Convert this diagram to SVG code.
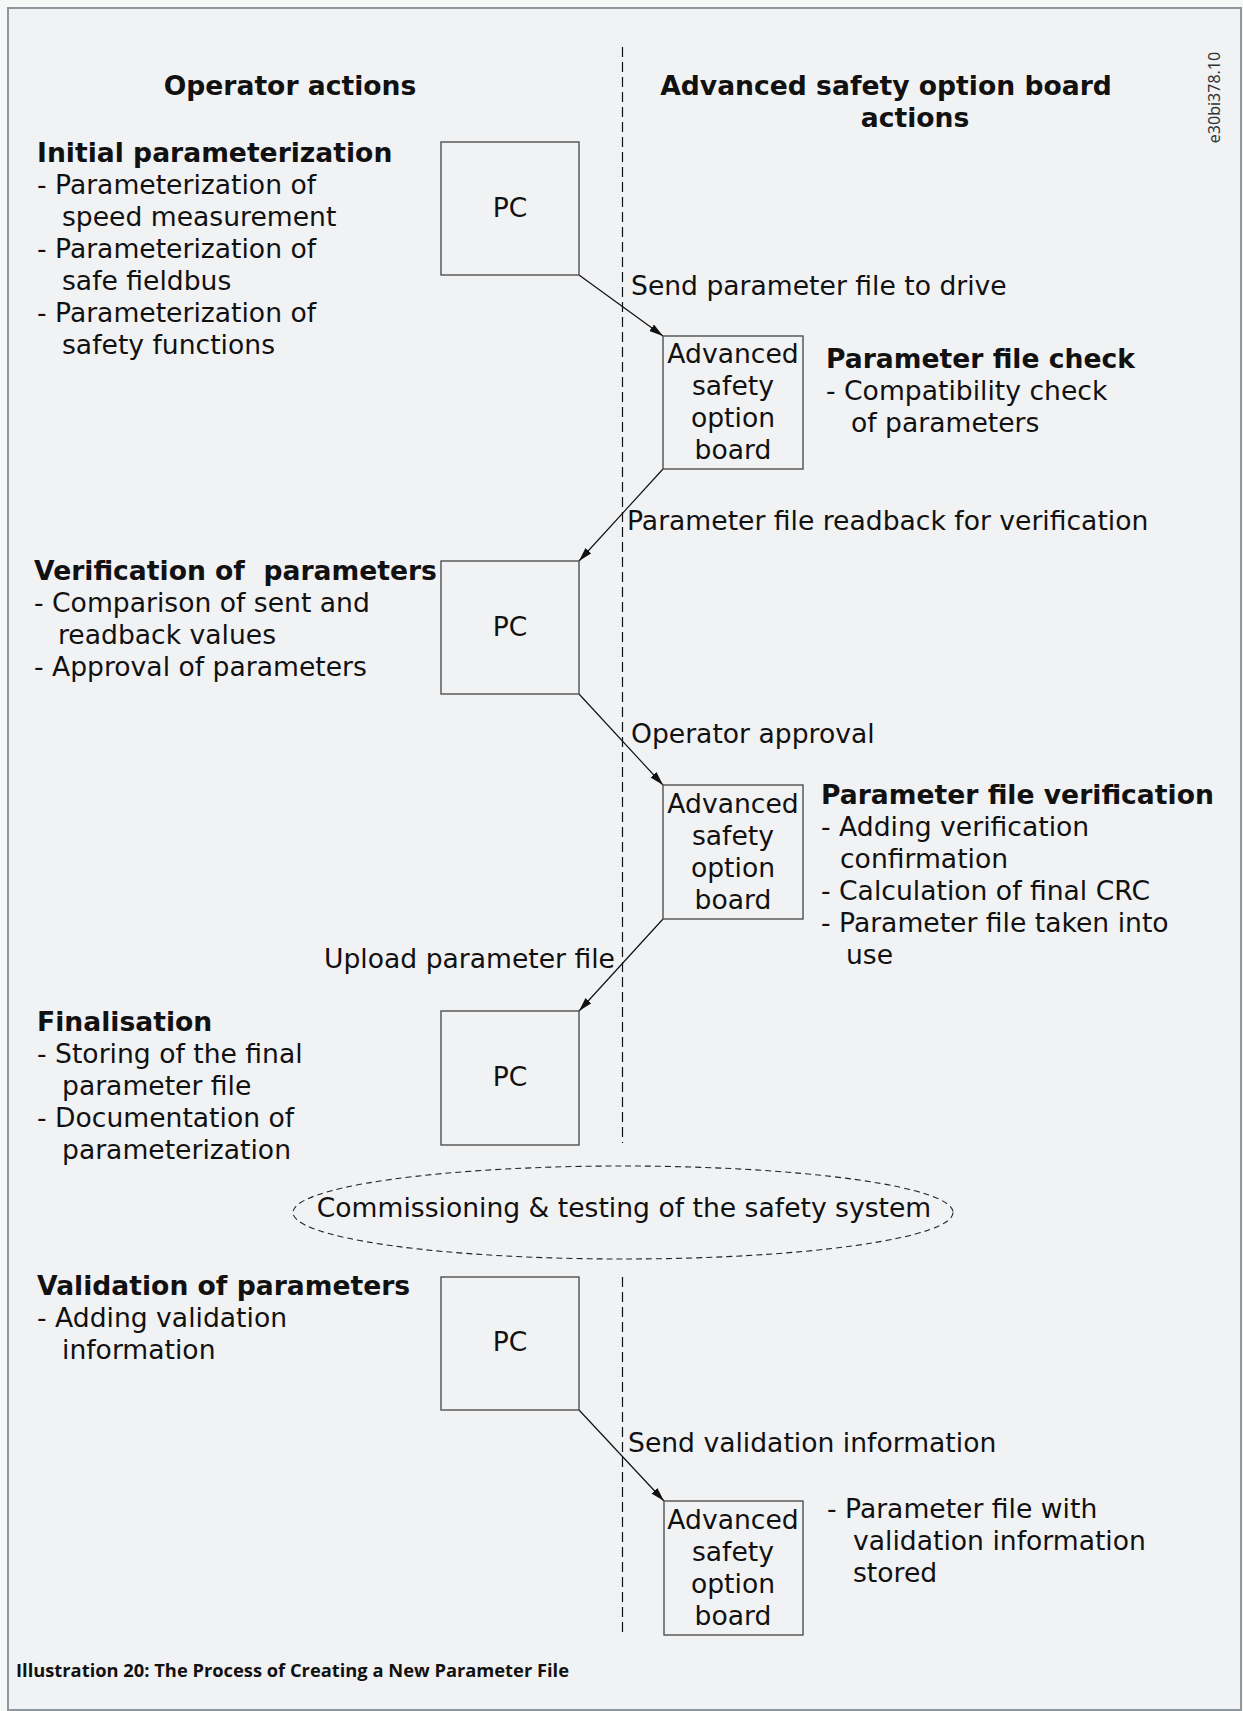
<svg xmlns="http://www.w3.org/2000/svg" width="1243" height="1711" viewBox="0 0 1243 1711">
<style>
.t{font-family:"DejaVu Sans",Verdana,sans-serif;font-size:26.6px;fill:#111}
.b{font-weight:bold}
.m{text-anchor:middle}
.e{text-anchor:end}
.box{fill:none;stroke:#505050;stroke-width:1.4}
.con{stroke:#111;stroke-width:1.2;fill:none;marker-end:url(#ah)}
.dash{stroke:#111;stroke-width:1.2;stroke-dasharray:10 5;fill:none}
</style>
<defs>
<marker id="ah" markerUnits="userSpaceOnUse" markerWidth="16" markerHeight="10" refX="14" refY="4" orient="auto">
<path d="M0,0 L14,4 L0,8 Z" fill="#111"/>
</marker>
</defs>
<rect x="0" y="0" width="1243" height="1711" fill="#f6f7f7"/>
<rect x="8" y="8" width="1233" height="1702" fill="#f1f2f4" stroke="#8e979d" stroke-width="2"/>

<g id="headers">
<text class="t b m" x="290" y="95">Operator actions</text>
<text class="t b m" x="886" y="95">Advanced safety option board</text>
<text class="t b m" x="915" y="127">actions</text>
<text transform="translate(1220,97.5) rotate(-90)" font-family="'Noto Sans','Open Sans',sans-serif" font-size="16" fill="#333" text-anchor="middle">e30bi378.10</text>
</g>

<g id="lane-divider">
<line class="dash" x1="622.5" y1="47" x2="622.5" y2="1143"/>
<line class="dash" x1="622.5" y1="1277" x2="622.5" y2="1635"/>
</g>

<g id="connectors">
<line class="con" x1="579" y1="275" x2="663" y2="336"/>
<line class="con" x1="663" y1="469" x2="579" y2="561"/>
<line class="con" x1="579" y1="694" x2="663" y2="785"/>
<line class="con" x1="663" y1="919" x2="579" y2="1011"/>
<line class="con" x1="579" y1="1410" x2="664" y2="1501"/>
<text class="t" x="631" y="295">Send parameter file to drive</text>
<text class="t" x="627" y="530">Parameter file readback for verification</text>
<text class="t" x="631" y="743">Operator approval</text>
<text class="t e" x="615" y="968">Upload parameter file</text>
<text class="t" x="628" y="1452">Send validation information</text>
</g>

<g id="pc1">
<rect class="box" x="441" y="142" width="138" height="133"/>
<text class="t m" x="510" y="217">PC</text>
</g>
<g id="board1">
<rect class="box" x="663" y="336" width="140" height="133"/>
<text class="t m" x="733" y="363">Advanced</text>
<text class="t m" x="733" y="395">safety</text>
<text class="t m" x="733" y="427">option</text>
<text class="t m" x="733" y="459">board</text>
</g>
<g id="pc2">
<rect class="box" x="441" y="561" width="138" height="133"/>
<text class="t m" x="510" y="636">PC</text>
</g>
<g id="board2">
<rect class="box" x="663" y="785" width="140" height="134"/>
<text class="t m" x="733" y="813">Advanced</text>
<text class="t m" x="733" y="845">safety</text>
<text class="t m" x="733" y="877">option</text>
<text class="t m" x="733" y="909">board</text>
</g>
<g id="pc3">
<rect class="box" x="441" y="1011" width="138" height="134"/>
<text class="t m" x="510" y="1086">PC</text>
</g>
<g id="pc4">
<rect class="box" x="441" y="1277" width="138" height="133"/>
<text class="t m" x="510" y="1351">PC</text>
</g>
<g id="board3">
<rect class="box" x="664" y="1501" width="139" height="134"/>
<text class="t m" x="733" y="1529">Advanced</text>
<text class="t m" x="733" y="1561">safety</text>
<text class="t m" x="733" y="1593">option</text>
<text class="t m" x="733" y="1625">board</text>
</g>

<g id="commissioning">
<ellipse cx="623" cy="1212.5" rx="330" ry="46.5" fill="none" stroke="#222" stroke-width="1.1" stroke-dasharray="6 4"/>
<text class="t m" x="624" y="1217">Commissioning &amp; testing of the safety system</text>
</g>

<g id="initial-parameterization">
<text class="t b" x="37" y="162">Initial parameterization</text>
<text class="t" x="37" y="194">- Parameterization of</text>
<text class="t" x="62" y="226">speed measurement</text>
<text class="t" x="37" y="258">- Parameterization of</text>
<text class="t" x="62" y="290">safe fieldbus</text>
<text class="t" x="37" y="322">- Parameterization of</text>
<text class="t" x="62" y="354">safety functions</text>
</g>
<g id="parameter-file-check">
<text class="t b" x="826" y="368">Parameter file check</text>
<text class="t" x="826" y="400">- Compatibility check</text>
<text class="t" x="851" y="432">of parameters</text>
</g>
<g id="verification-of-parameters">
<text class="t b" x="34" y="580" xml:space="preserve">Verification of  parameters</text>
<text class="t" x="34" y="612">- Comparison of sent and</text>
<text class="t" x="58" y="644">readback values</text>
<text class="t" x="34" y="676">- Approval of parameters</text>
</g>
<g id="parameter-file-verification">
<text class="t b" x="821" y="804">Parameter file verification</text>
<text class="t" x="821" y="836">- Adding verification</text>
<text class="t" x="840" y="868">confirmation</text>
<text class="t" x="821" y="900">- Calculation of final CRC</text>
<text class="t" x="821" y="932">- Parameter file taken into</text>
<text class="t" x="846" y="964">use</text>
</g>
<g id="finalisation">
<text class="t b" x="37" y="1031">Finalisation</text>
<text class="t" x="37" y="1063">- Storing of the final</text>
<text class="t" x="62" y="1095">parameter file</text>
<text class="t" x="37" y="1127">- Documentation of</text>
<text class="t" x="62" y="1159">parameterization</text>
</g>
<g id="validation-of-parameters">
<text class="t b" x="37" y="1295">Validation of parameters</text>
<text class="t" x="37" y="1327">- Adding validation</text>
<text class="t" x="62" y="1359">information</text>
</g>
<g id="validation-stored">
<text class="t" x="827" y="1518">- Parameter file with</text>
<text class="t" x="853" y="1550">validation information</text>
<text class="t" x="853" y="1582">stored</text>
</g>

<text x="16" y="1677" font-family="'Open Sans','Noto Sans',sans-serif" font-weight="bold" font-size="17" fill="#111" textLength="553" lengthAdjust="spacingAndGlyphs">Illustration 20: The Process of Creating a New Parameter File</text>
</svg>
